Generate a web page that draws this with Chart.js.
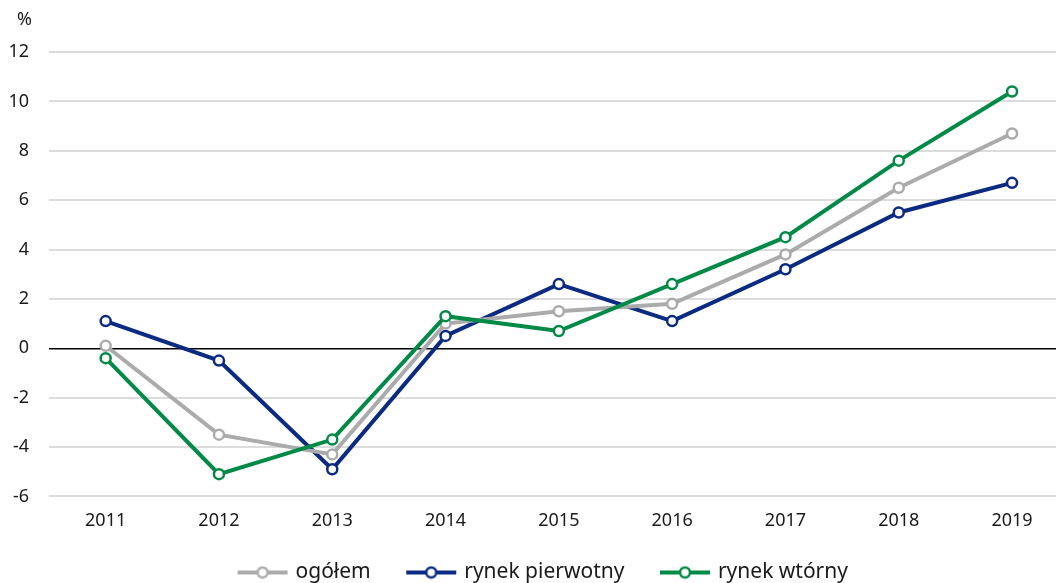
<!DOCTYPE html>
<html>
<head>
<meta charset="utf-8">
<script src="https://cdn.jsdelivr.net/npm/chart.js@4/dist/chart.umd.min.js"></script>
<style>
    html, body { margin: 0; padding: 0; background: #fff; overflow: hidden; }
    #wrap { width: 1056px; height: 583px; }
</style>
</head>
<body>
<div id="wrap"><canvas id="chart"></canvas></div>
<script>
const years = [2011, 2012, 2013, 2014, 2015, 2016, 2017, 2018, 2019];
const ogolem = [0.1, -3.5, -4.3, 1.0, 1.5, 1.8, 3.8, 6.5, 8.7];
const pierwotny = [1.1, -0.5, -4.9, 0.5, 2.6, 1.1, 3.2, 5.5, 6.7];
const wtorny = [-0.4, -5.1, -3.7, 1.3, 0.7, 2.6, 4.5, 7.6, 10.4];
const yTicks = [-6, -4, -2, 0, 2, 4, 6, 8, 10, 12];

const FONT = "'Noto Sans', sans-serif";
const TEXT = "#1a1a1a";
const SIZE = 18;

function series(label, values, color, order) {
    return {
        label: label,
        data: years.map((y, i) => ({ x: y, y: values[i] })),
        borderColor: color,
        backgroundColor: "#ffffff",
        borderWidth: 4,
        pointRadius: 5,
        pointBorderWidth: 2.5,
        pointBackgroundColor: "#ffffff",
        pointBorderColor: color,
        tension: 0,
        order: order,
    };
}

// legend icon: line with an open circle in the middle, empty space on the left
function legendIcon(color) {
    const c = document.createElement("canvas");
    c.width = 86;
    c.height = 14;
    const g = c.getContext("2d");
    g.strokeStyle = color;
    g.lineWidth = 4;
    g.beginPath();
    g.moveTo(35, 7);
    g.lineTo(85, 7);
    g.stroke();
    g.fillStyle = "#ffffff";
    g.lineWidth = 2.5;
    g.beginPath();
    g.arc(60, 7, 5, 0, Math.PI * 2);
    g.fill();
    g.stroke();
    return c;
}

const percentLabel = {
    id: "percentLabel",
    afterDraw(chart) {
        const ctx = chart.ctx;
        ctx.save();
        ctx.font = SIZE + "px " + FONT;
        ctx.fillStyle = TEXT;
        ctx.textAlign = "left";
        ctx.textBaseline = "middle";
        ctx.fillText("%", 17, 20);
        ctx.restore();
    },
};

// nudge the legend box a little left and down
const legendShift = {
    id: "legendShift",
    afterLayout(chart) {
        const l = chart.legend;
        if (!l) return;
        l.left -= 6;
        l.right -= 6;
        l.top += 12;
        l.bottom += 12;
    },
};

new Chart(document.getElementById("chart"), {
    type: "line",
    data: {
        datasets: [
            series("ogółem", ogolem, "#ababab", 1),
            series("rynek pierwotny", pierwotny, "#0b2a82", 2),
            series("rynek wtórny", wtorny, "#008a45", 0),
        ],
    },
    options: {
        responsive: true,
        maintainAspectRatio: false,
        animation: false,
        layout: { autoPadding: false, padding: { top: 52, left: 10, right: 0, bottom: 2 } },
        scales: {
            x: {
                type: "linear",
                min: 2010.5,
                max: 2019.388,
                afterBuildTicks: (axis) => {
                    axis.ticks = years.map((v) => ({ value: v }));
                },
                afterFit: (axis) => {
                    axis.paddingLeft = 0;
                    axis.paddingRight = 0;
                },
                grid: { display: false, drawTicks: false },
                border: { display: false },
                ticks: {
                    color: TEXT,
                    font: { family: FONT, size: SIZE },
                    padding: 14,
                    maxRotation: 0,
                    callback: (v) => String(v),
                },
            },
            y: {
                min: -6,
                max: 12,
                afterBuildTicks: (axis) => {
                    axis.ticks = yTicks.map((v) => ({ value: v }));
                },
                afterFit: (axis) => {
                    axis.width = 39;
                },
                grid: {
                    drawTicks: false,
                    lineWidth: (c) => (c.tick && c.tick.value === 0 ? 1.5 : 2),
                    color: (c) => (c.tick && c.tick.value === 0 ? "#000000" : "#dcdcdc"),
                },
                border: { display: false },
                ticks: {
                    color: TEXT,
                    font: { family: FONT, size: SIZE },
                    padding: 20,
                },
            },
        },
        plugins: {
            legend: {
                position: "bottom",
                labels: {
                    usePointStyle: true,
                    pointStyleWidth: 79,
                    color: TEXT,
                    font: { family: FONT, size: 21 },
                    padding: 4,
                    generateLabels: (chart) => {
                        return chart.data.datasets.map((ds, i) => ({
                            text: ds.label,
                            datasetIndex: i,
                            fontColor: TEXT,
                            pointStyle: legendIcon(ds.borderColor),
                            strokeStyle: ds.borderColor,
                            fillStyle: "#ffffff",
                            lineWidth: 0,
                            hidden: false,
                        }));
                    },
                },
            },
            tooltip: { enabled: false },
        },
    },
    plugins: [percentLabel, legendShift],
});
</script>
</body>
</html>
